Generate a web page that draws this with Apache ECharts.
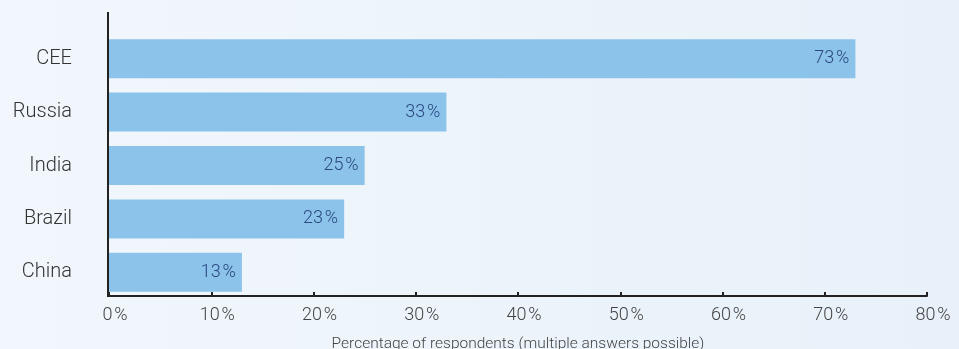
<!DOCTYPE html>
<html>
<head>
<meta charset="utf-8">
<script src="https://cdn.jsdelivr.net/npm/echarts@6/dist/echarts.min.js"></script>
<style>
  html, body { margin: 0; padding: 0; }
  #chart { width: 959px; height: 349px; }
</style>
</head>
<body>
<div id="chart"></div>
<script>
// Markets named by respondents (share, %)
const categories = ['CEE', 'Russia', 'India', 'Brazil', 'China'];
const shares = [73, 33, 25, 23, 13];
const tickValues = [0, 10, 20, 30, 40, 50, 60, 70, 80];
const axisTitle = 'Percentage of respondents (multiple answers possible)';

const chart = echarts.init(document.getElementById('chart'), null, { renderer: 'canvas' });

const FONT = 'Roboto, "Liberation Sans", sans-serif';
const pct = v => v + '\u200A%';

chart.setOption({
  backgroundColor: {
    type: 'linear', x: 0, y: 0, x2: 1, y2: 0,
    colorStops: [
      { offset: 0, color: '#f1f7fc' },
      { offset: 1, color: '#e8f1f9' }
    ]
  },
  animation: false,
  grid: { left: 109, right: 32, top: 32, bottom: 50, containLabel: false, outerBoundsMode: 'none' },
  xAxis: {
    type: 'value',
    min: tickValues[0],
    max: tickValues[tickValues.length - 1],
    interval: 10,
    offset: -3,
    axisLine: { show: true, lineStyle: { color: '#222', width: 2 } },
    axisTick: { show: true, inside: true, length: 4, lineStyle: { color: '#222', width: 2 } },
    splitLine: { show: false },
    axisLabel: {
      formatter: pct,
      color: '#444',
      fontFamily: FONT,
      fontWeight: 300,
      fontSize: 18,
      margin: 10,
      padding: [0, 0, 0, 12]
    },
    name: axisTitle,
    nameLocation: 'middle',
    nameGap: 40,
    nameTextStyle: { color: '#444', fontFamily: FONT, fontWeight: 300, fontSize: 15.5 }
  },
  yAxis: {
    type: 'category',
    inverse: true,
    data: categories,
    axisLine: { show: false },
    axisTick: { show: false },
    axisLabel: { color: '#333', fontFamily: FONT, fontWeight: 300, fontSize: 20, margin: 37 }
  },
  graphic: [{
    type: 'line',
    shape: { x1: 108, y1: 12, x2: 108, y2: 297 },
    style: { stroke: '#222', lineWidth: 2 },
    z: 10
  }],
  series: [{
    type: 'bar',
    data: shares,
    barWidth: 39,
    itemStyle: { color: '#8cc3ea' },
    label: {
      show: true,
      position: 'insideRight',
      formatter: p => pct(p.value),
      color: '#2a4780',
      fontFamily: FONT,
      fontWeight: 300,
      fontSize: 18,
      distance: 6
    }
  }]
});
</script>
</body>
</html>
